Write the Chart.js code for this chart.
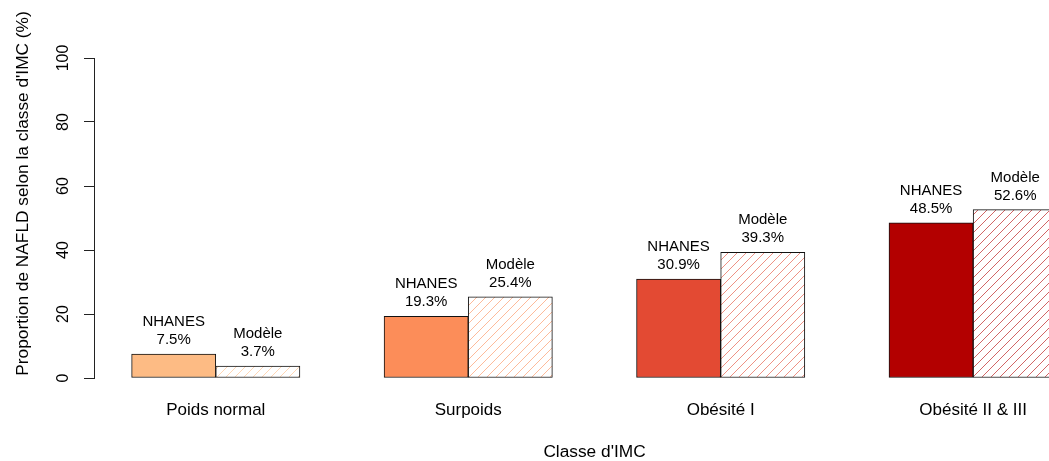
<!DOCTYPE html>
<html><head><meta charset="utf-8">
<script src="https://cdn.jsdelivr.net/npm/chart.js@4"></script>
<style>html,body{margin:0;padding:0;background:#fff;overflow:hidden}#wrap{width:1049px;height:461px;position:relative}</style>
</head><body><div id="wrap"><canvas id="c" width="1049" height="461"></canvas></div>
<script>
const categories = ['Poids normal', 'Surpoids', 'Obésité I', 'Obésité II & III'];
const seriesNames = ['NHANES', 'Modèle'];
const nhanes = [7.5, 19.3, 30.9, 48.5];
const modele = [3.7, 25.4, 39.3, 52.6];
const groupColors = ['#FDBB84', '#FC8D59', '#E34A33', '#B30000'];
const yTicks = [0, 20, 40, 60, 80, 100];
const xTitle = "Classe d'IMC";
const yTitle = "Proportion de NAFLD selon la classe d'IMC (%)";

const FONT = "'Liberation Sans', Arial, Helvetica, sans-serif";

function makeHatch(color) {
  const s = 9;
  const c = document.createElement('canvas');
  c.width = s; c.height = s;
  const g = c.getContext('2d');
  g.fillStyle = '#fff';
  g.fillRect(0, 0, s, s);
  g.globalAlpha = 0.6;
  g.strokeStyle = color;
  g.lineWidth = 1;
  g.beginPath();
  g.moveTo(-1, s + 1); g.lineTo(s + 1, -1);
  g.moveTo(-1, 1); g.lineTo(1, -1);
  g.moveTo(s - 1, s + 1); g.lineTo(s + 1, s - 1);
  g.stroke();
  return g.createPattern(c, 'repeat');
}

const barLabels = {
  id: 'barLabels',
  afterDatasetsDraw(chart) {
    const ctx = chart.ctx;
    ctx.save();
    ctx.fillStyle = '#000';
    ctx.textAlign = 'center';
    ctx.textBaseline = 'alphabetic';
    ctx.font = '15px ' + FONT;
    chart.data.datasets.forEach((ds, di) => {
      const meta = chart.getDatasetMeta(di);
      meta.data.forEach((el, i) => {
        const v = ds.data[i].y;
        ctx.fillText(seriesNames[di], el.x, el.y - 28);
        ctx.fillText(v.toFixed(1) + '%', el.x, el.y - 10);
      });
    });
    ctx.restore();
  }
};

const axisTitles = {
  id: 'axisTitles',
  afterDraw(chart) {
    const ctx = chart.ctx;
    ctx.save();
    ctx.fillStyle = '#000';
    ctx.font = '17.3px ' + FONT;
    ctx.textAlign = 'center';
    ctx.textBaseline = 'alphabetic';
    ctx.fillText(xTitle, 594.5, 457);
    ctx.translate(28, 193.5);
    ctx.rotate(-Math.PI / 2);
    ctx.fillText(yTitle, 0, 0);
    ctx.restore();
  }
};

new Chart(document.getElementById('c'), {
  type: 'bar',
  data: {
    datasets: [
      {
        label: seriesNames[0],
        data: nhanes.map((v, i) => ({ x: 1.5 + 3 * i, y: v })),
        backgroundColor: groupColors,
        borderColor: '#111',
        borderWidth: 1,
        borderSkipped: false,
        grouped: false,
        clip: false,
        barPercentage: 1,
        categoryPercentage: 1
      },
      {
        label: seriesNames[1],
        data: modele.map((v, i) => ({ x: 2.5 + 3 * i, y: v })),
        backgroundColor: groupColors.map(makeHatch),
        borderColor: '#111',
        borderWidth: 1,
        borderSkipped: false,
        grouped: false,
        clip: false,
        barPercentage: 1,
        categoryPercentage: 1
      }
    ]
  },
  options: {
    responsive: false,
    animation: false,
    layout: { padding: { top: 58, left: 0, right: 0, bottom: 0 } },
    plugins: { legend: { display: false }, tooltip: { enabled: false } },
    scales: {
      x: {
        type: 'linear',
        min: 0.553,
        max: 11.85,
        offset: false,
        grid: { display: false, drawTicks: false },
        border: { display: false },
        afterBuildTicks(scale) { scale.ticks = categories.map((c, i) => ({ value: 2 + 3 * i })); },
        afterFit(scale) { scale.height = 83; },
        ticks: {
          autoSkip: false,
          maxRotation: 0,
          padding: 22,
          color: '#000',
          font: { family: FONT, size: 17 },
          callback: (v, i) => categories[i]
        }
      },
      y: {
        min: 0,
        max: 100,
        afterBuildTicks(scale) { scale.ticks = yTicks.map(v => ({ value: v })); },
        afterFit(scale) { scale.width = 94; },
        grid: { drawOnChartArea: false, tickLength: 10, color: '#222' },
        border: { display: true, color: '#222', width: 1 },
        ticks: {
          minRotation: 90,
          maxRotation: 90,
          crossAlign: 'center',
          padding: 7,
          color: '#000',
          font: { family: FONT, size: 16 }
        }
      }
    }
  },
  plugins: [barLabels, axisTitles]
});
</script>
</body></html>
